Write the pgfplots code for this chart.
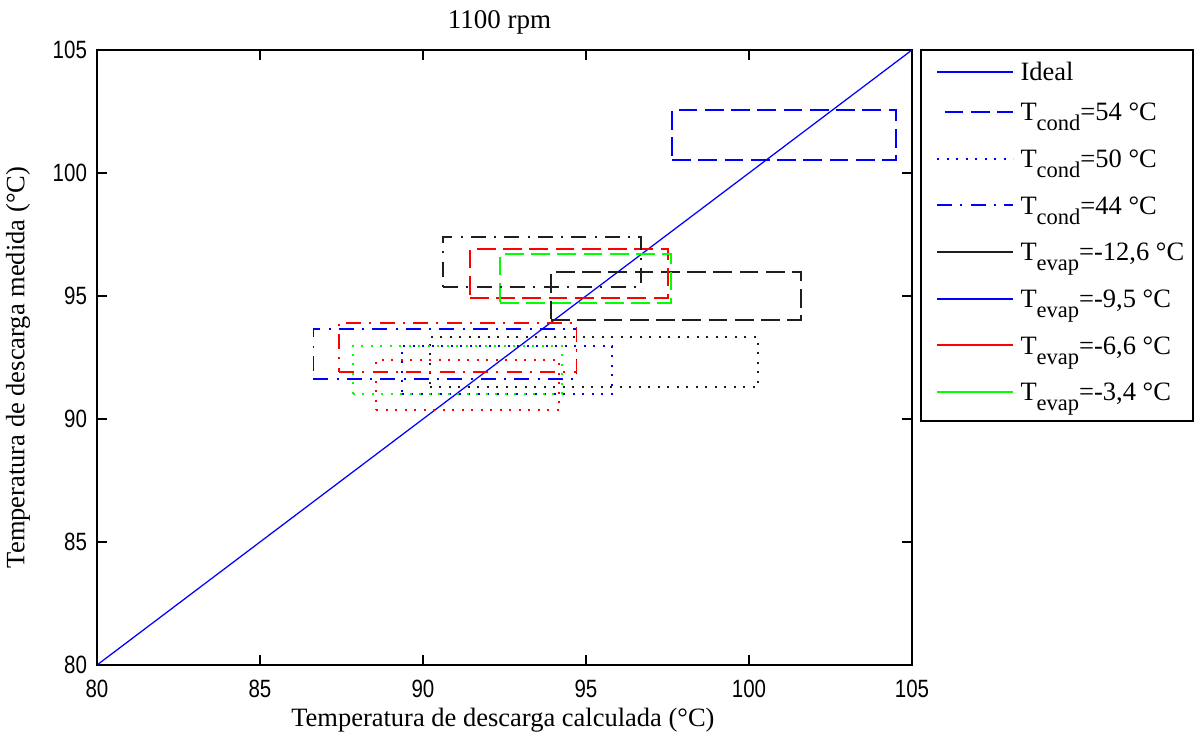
\documentclass[border=0pt]{standalone}
\usepackage{pgfplots}
\pgfplotsset{compat=1.18}
\usepackage{fontspec}
\setmainfont{Liberation Serif}
\newfontfamily\tickfont[FakeStretch=0.82]{Liberation Sans}
\newcommand\sub[1]{\raisebox{-4pt}{\fontsize{9}{10}\selectfont #1}}
\definecolor{mblue}{rgb}{0,0,1}
\definecolor{mred}{rgb}{1,0,0}
\definecolor{mgreen}{rgb}{0,1,0}
\definecolor{mblack}{rgb}{0.12,0.12,0.12}
\tikzset{
  dsh/.style={dash pattern=on 7.5pt off 3pt},
  dtt/.style={dash pattern=on 0.8pt off 3pt},
  dshdt/.style={dash pattern=on 6pt off 3.3pt on 0.8pt off 3.3pt},
  rect/.style={line width=0.75pt},
  legtext/.style={anchor=base west, inner sep=0pt, font=\fontsize{10.6}{12}\selectfont},
}
\begin{document}
\begin{tikzpicture}
\begin{axis}[name=ax, scale only axis, width=326pt, height=246pt,
  xmin=80, xmax=105, ymin=80, ymax=105,
  xtick={80,85,...,105}, ytick={80,85,...,105},
  tick align=inside, major tick length=4pt,
  axis line style={line width=0.6pt},
  every tick/.style={black, line width=0.6pt},
  /pgf/number format/assume math mode=true,
  tick label style={font=\tickfont\fontsize{10}{12}\selectfont},
  xticklabel style={yshift=-2.5pt},
  yticklabel style={xshift=-0.5pt},
  title={1100 rpm},
  every axis title/.style={at={(axis description cs:0.494,1.0455)}, anchor=center, font=\fontsize{10.8}{12}\selectfont},
  xlabel={Temperatura de descarga calculada (°C)},
  xlabel style={at={(axis description cs:0.498,-0.0894)}, anchor=center, font=\fontsize{10.6}{12}\selectfont},
  ylabel={Temperatura de descarga medida (°C)},
  ylabel style={at={(axis description cs:-0.0969,0.4837)}, anchor=center, font=\fontsize{10.6}{12}\selectfont},
]
\addplot[mblue, line width=0.5pt] coordinates {(80,80) (105,105)};
% Tcond = 54 (dashed)
\addplot[mblack, rect, dsh] coordinates {(93.93,94.02) (101.6,94.02) (101.6,95.99) (93.93,95.99) (93.93,94.02)};
\addplot[mblue, rect, dsh] coordinates {(97.64,100.53) (104.51,100.53) (104.51,102.56) (97.64,102.56) (97.64,100.53)};
\addplot[mred, rect, dsh] coordinates {(91.44,94.91) (97.52,94.91) (97.52,96.91) (91.44,96.91) (91.44,94.91)};
\addplot[mgreen, rect, dsh] coordinates {(92.36,94.70) (97.60,94.70) (97.60,96.71) (92.36,96.71) (92.36,94.70)};
% Tcond = 50 (dotted)
\addplot[mblack, rect, dtt] coordinates {(90.21,91.31) (100.28,91.31) (100.28,93.32) (90.21,93.32) (90.21,91.31)};
\addplot[mblue, rect, dtt] coordinates {(89.35,91.02) (95.80,91.02) (95.80,92.98) (89.35,92.98) (89.35,91.02)};
\addplot[mred, rect, dtt] coordinates {(88.56,90.37) (94.18,90.37) (94.18,92.40) (88.56,92.40) (88.56,90.37)};
\addplot[mgreen, rect, dtt] coordinates {(87.84,91.02) (94.26,91.02) (94.26,92.98) (87.84,92.98) (87.84,91.02)};
% Tcond = 44 (dash-dot)
\addplot[mblack, rect, dshdt] coordinates {(90.62,95.38) (96.68,95.38) (96.68,97.39) (90.62,97.39) (90.62,95.38)};
\addplot[mblue, rect, dshdt] coordinates {(86.64,91.61) (94.71,91.61) (94.71,93.65) (86.64,93.65) (86.64,91.61)};
\addplot[mred, rect, dshdt] coordinates {(87.43,91.90) (94.71,91.90) (94.71,93.92) (87.43,93.92) (87.43,91.90)};
\end{axis}
% legend (drawn beside the axis)
\begin{scope}[shift={(ax.north east)}]
\draw[line width=0.6pt, fill=white] (3.6pt,0pt) rectangle (112.4pt,-148.4pt);
\draw[mblue, line width=0.7pt] (10pt,-8.8pt) -- (40.4pt,-8.8pt);
\node[legtext] at (43.2pt,-12.3pt) {Ideal};
\draw[mblue, line width=0.75pt, dsh, dash phase=7.5pt] (10pt,-24.8pt) -- (40.4pt,-24.8pt);
\node[legtext] at (43.2pt,-28.3pt) {T\sub{cond}=54 °C};
\draw[mblue, line width=0.75pt, dtt] (10pt,-43.5pt) -- (40.4pt,-43.5pt);
\node[legtext] at (43.2pt,-47pt) {T\sub{cond}=50 °C};
\draw[mblue, line width=0.75pt, dshdt] (10pt,-62.1pt) -- (40.4pt,-62.1pt);
\node[legtext] at (43.2pt,-65.6pt) {T\sub{cond}=44 °C};
\draw[mblack, line width=0.7pt] (10pt,-80.8pt) -- (40.4pt,-80.8pt);
\node[legtext] at (43.2pt,-84.3pt) {T\sub{evap}=-12,6 °C};
\draw[mblue, line width=0.7pt] (10pt,-99.5pt) -- (40.4pt,-99.5pt);
\node[legtext] at (43.2pt,-103pt) {T\sub{evap}=-9,5 °C};
\draw[mred, line width=0.7pt] (10pt,-118.1pt) -- (40.4pt,-118.1pt);
\node[legtext] at (43.2pt,-121.6pt) {T\sub{evap}=-6,6 °C};
\draw[mgreen, line width=0.7pt] (10pt,-136.8pt) -- (40.4pt,-136.8pt);
\node[legtext] at (43.2pt,-140.3pt) {T\sub{evap}=-3,4 °C};
\end{scope}
\pgfresetboundingbox
\path[use as bounding box] ([shift={(-38.8pt,-28.8pt)}]ax.south west) rectangle ([shift={(114pt,20pt)}]ax.north east);
\end{tikzpicture}
\end{document}
